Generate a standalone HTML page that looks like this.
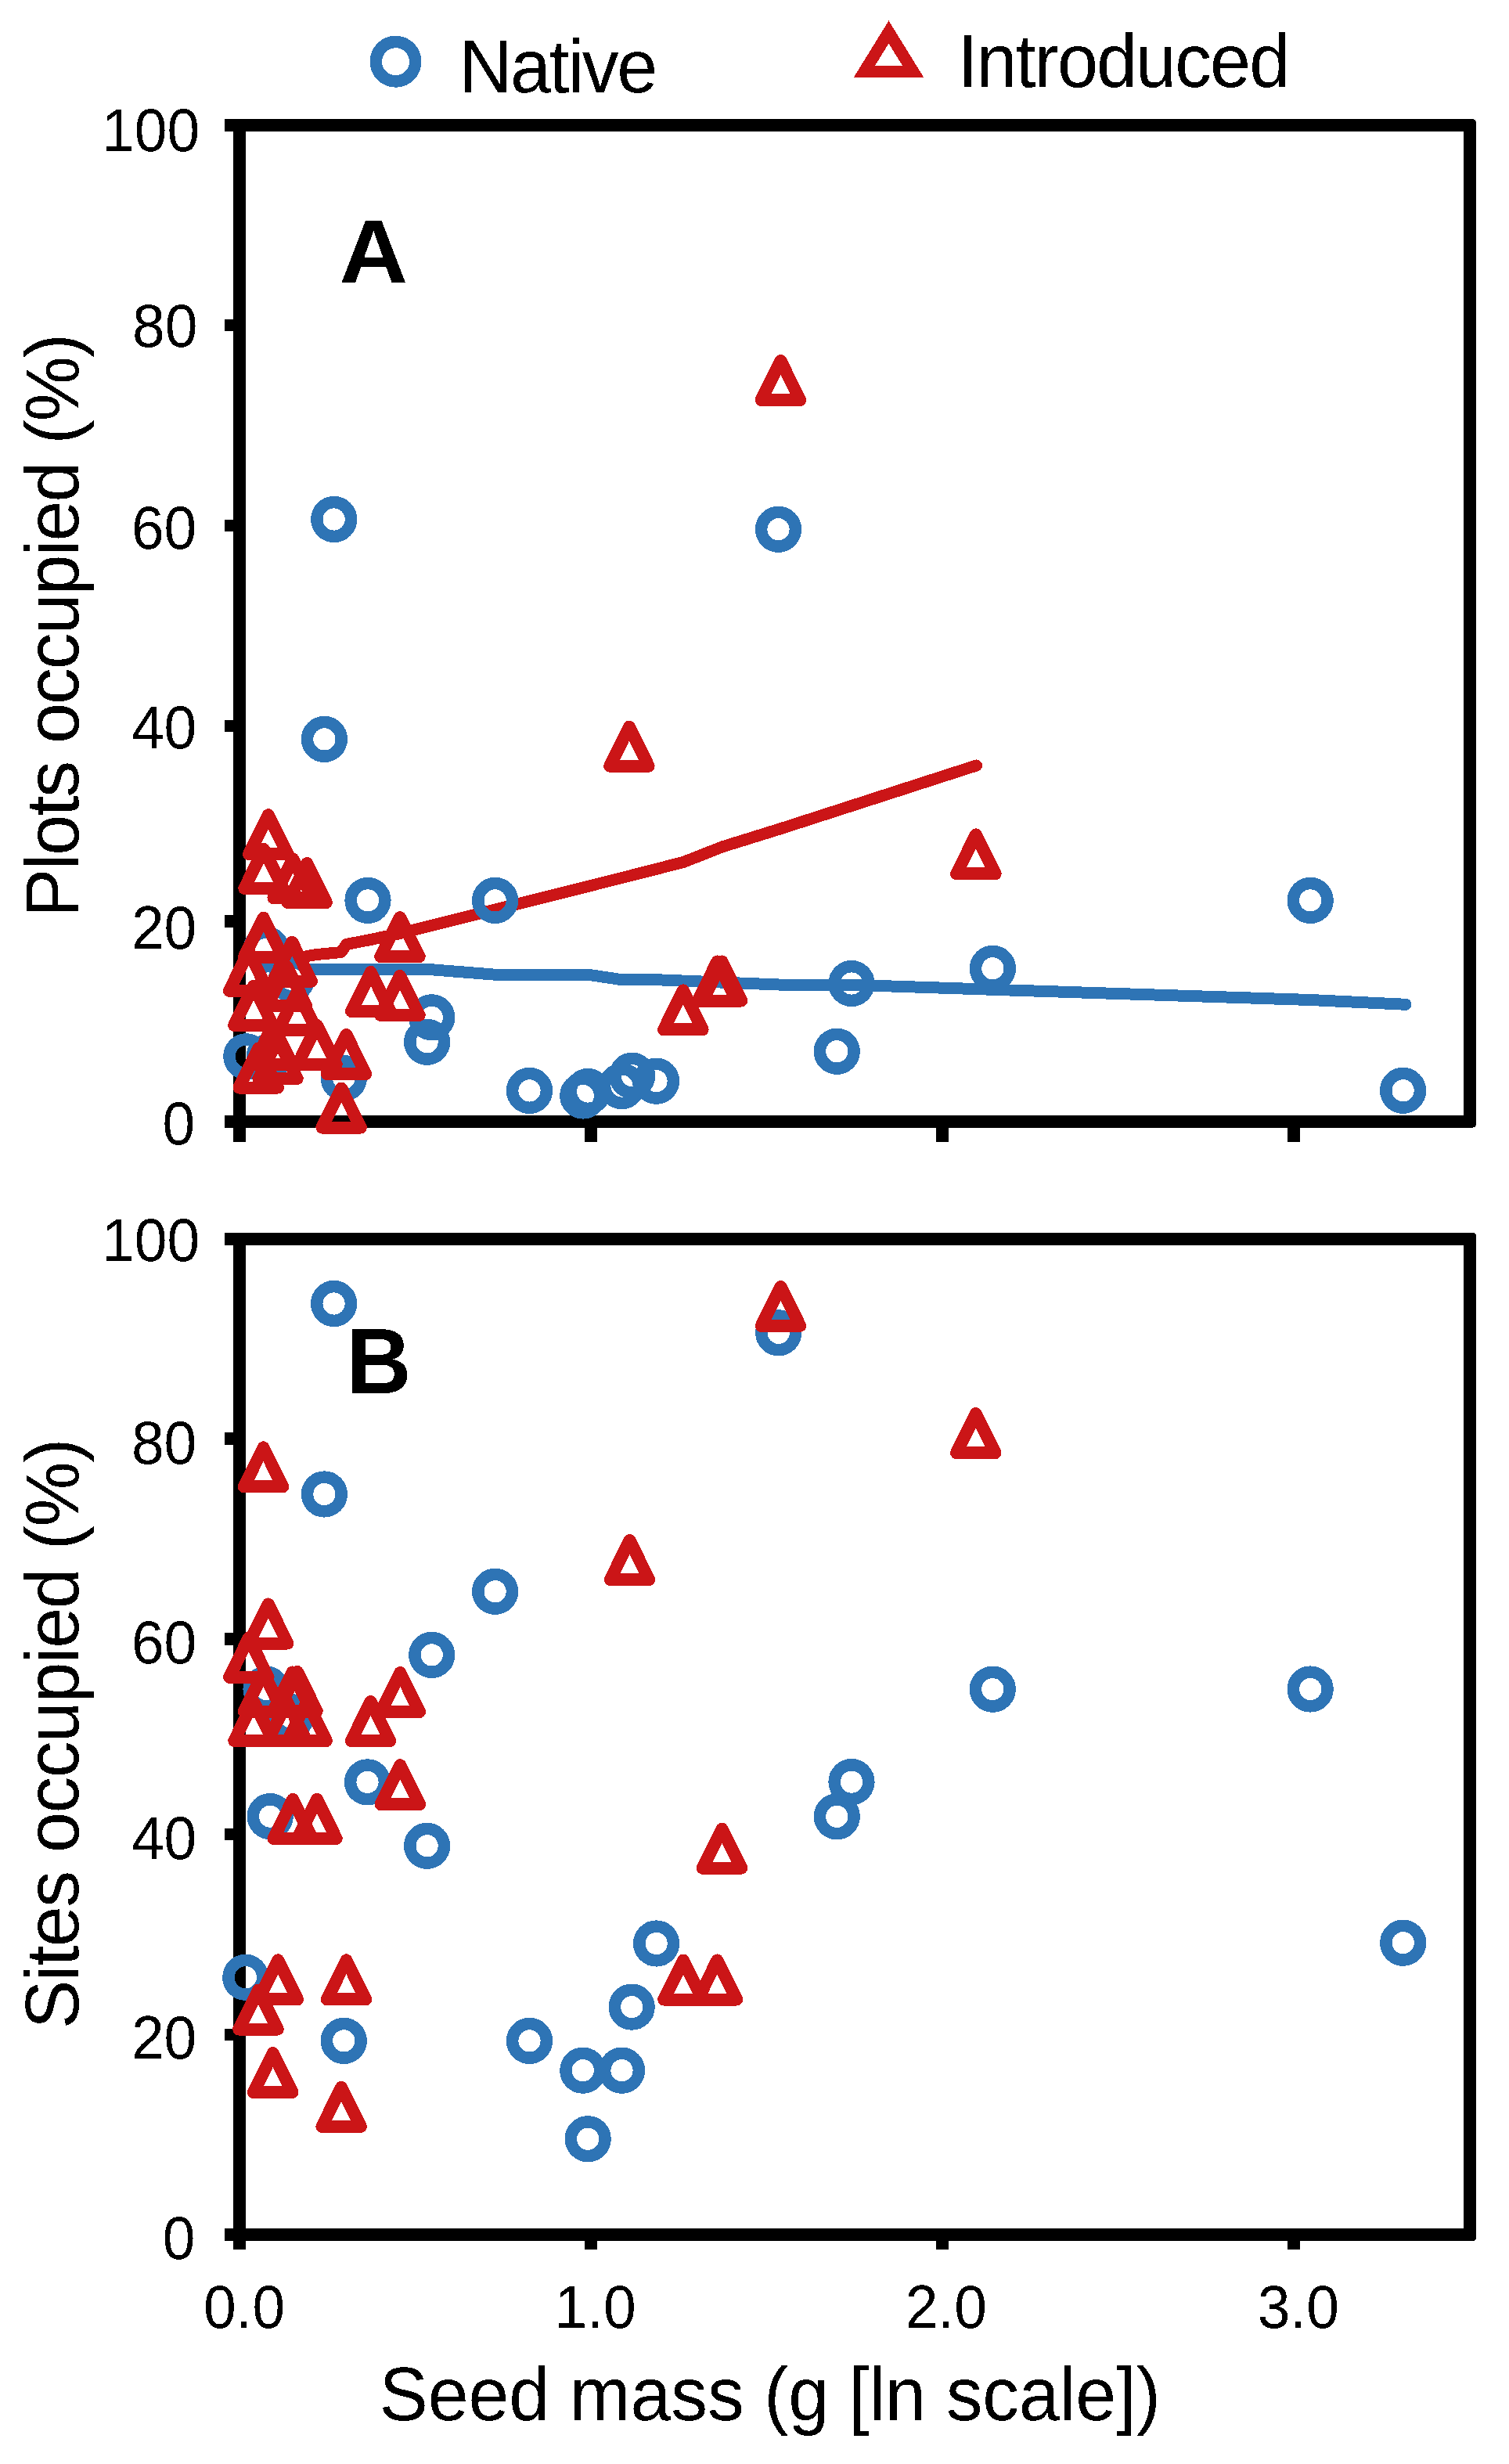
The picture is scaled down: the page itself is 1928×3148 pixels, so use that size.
<!DOCTYPE html>
<html lang="en">
<head>
<meta charset="utf-8">
<title>Seed mass vs plots and sites occupied</title>
<style>
html,body{margin:0;padding:0;background:#fff}
body{width:1928px;height:3148px;overflow:hidden}
svg{display:block}
text{font-family:"Liberation Sans", sans-serif;fill:#000;filter:url(#bin)}
.tick{font-size:78.0px}
.ttl{font-size:97.3px}
.lab{font-size:118px;font-weight:bold}
.b{fill:none;stroke:#2E74B5}
.r{fill:none;stroke:#CB1517}
</style>
</head>
<body>
<svg width="1928" height="3148" viewBox="0 0 1928 3148" shape-rendering="crispEdges">
<defs><filter id="bin" x="-5%" y="-5%" width="110%" height="110%" color-interpolation-filters="sRGB"><feComponentTransfer><feFuncA type="discrete" tableValues="0 1"/></feComponentTransfer></filter></defs>
<rect width="1928" height="3148" fill="#fff"/>
<g class="b" stroke-width="15.5"><circle cx="505.5" cy="78.7" r="25.2"/></g>
<text class="ttl" transform="translate(586.7 117.8) scale(0.961 1)" style="letter-spacing:-2.40px">Native</text>
<g class="r" stroke-width="15.3" stroke-linejoin="miter" stroke-miterlimit="10"><path d="M1135.5 41L1104.5 91.2H1166.5Z"/></g>
<text class="ttl" transform="translate(1223.3 111) scale(0.961 1)" style="letter-spacing:-1.95px">Introduced</text>
<g id="panelA">
<g fill="#000"><path fill-rule="evenodd" d="M298 152H1881Q1886 152 1886 157V1435.7Q1886 1440.7 1881 1440.7H298ZM314 168V1424.7H1870V168Z"/><rect x="286.7" y="152.2" width="12" height="15.6"/><rect x="286.7" y="407.6" width="12" height="15.6"/><rect x="286.7" y="663.7" width="12" height="15.6"/><rect x="286.7" y="919.7" width="12" height="15.6"/><rect x="286.7" y="1169.2" width="12" height="15.6"/><rect x="286.7" y="1424.9" width="12" height="15.6"/><rect x="298" y="1439.7" width="16" height="19"/><rect x="747.1" y="1439.7" width="16" height="19"/><rect x="1196.3" y="1439.7" width="16" height="19"/><rect x="1645.4" y="1439.7" width="16" height="19"/></g>
<g class="tick"><text transform="translate(255.2 193) scale(0.9615 1)" text-anchor="end">100</text><text transform="translate(252.4 443.3) scale(0.9615 1)" text-anchor="end">80</text><text transform="translate(251.3 700.6) scale(0.9615 1)" text-anchor="end">60</text><text transform="translate(251.3 956.2) scale(0.9615 1)" text-anchor="end">40</text><text transform="translate(251.3 1212) scale(0.9615 1)" text-anchor="end">20</text><text transform="translate(249.1 1462.3) scale(0.9615 1)" text-anchor="end">0</text></g>
<polyline class="b" stroke-width="15" stroke-linejoin="round" stroke-linecap="round" points="392,1238 545.6,1238 551.7,1238.8 632.6,1245.2 751.2,1245.2 794.5,1251.7 838.6,1251.7 994.7,1258 1088,1258.3 1268.3,1264.3 1674.2,1277.5 1796,1283.3"/>
<polyline class="r" stroke-width="15" stroke-linejoin="round" stroke-linecap="round" points="392,1221.5 405,1219.5 436.1,1216.5 442.5,1206.5 473.5,1200.5 511.3,1192.5 804.5,1119 873,1101.5 916.4,1084.5 922.5,1082 997.5,1058.7 1247.5,978"/>
<g class="b" stroke-width="15.5"><circle cx="314.8" cy="1349.8" r="21.85"/><circle cx="340" cy="1213" r="21.85"/><circle cx="344.2" cy="1349.8" r="21.85"/><circle cx="372.5" cy="1251" r="21.85"/><circle cx="414.4" cy="944.4" r="21.85"/><circle cx="426.7" cy="663.5" r="21.85"/><circle cx="439.3" cy="1377.6" r="21.85"/><circle cx="470" cy="1150.4" r="21.85"/><circle cx="545.6" cy="1331.3" r="21.85"/><circle cx="551.7" cy="1299.8" r="21.85"/><circle cx="632.6" cy="1150.4" r="21.85"/><circle cx="676.5" cy="1393.4" r="21.85"/><circle cx="744.8" cy="1400" r="21.85"/><circle cx="751.2" cy="1394.5" r="21.85"/><circle cx="794.5" cy="1387.6" r="21.85"/><circle cx="807.7" cy="1374.3" r="21.85"/><circle cx="838.5" cy="1381.2" r="21.85"/><circle cx="994.5" cy="676.3" r="21.85"/><circle cx="1069.3" cy="1343.3" r="21.85"/><circle cx="1088" cy="1256.5" r="21.85"/><circle cx="1268.4" cy="1237.3" r="21.85"/><circle cx="1674.2" cy="1150.4" r="21.85"/><circle cx="1792.6" cy="1393.3" r="21.85"/></g>
<g class="r" stroke-width="16.0" stroke-linejoin="round"><path d="M342.8 1041.2L318.05 1091.2H367.55Z"/><path d="M337 1085L312.25 1135H361.75Z"/><path d="M374.2 1097.3L349.45 1147.3H398.95Z"/><path d="M392.2 1103L367.45 1153H416.95Z"/><path d="M336.6 1172.6L311.85 1222.6H361.35Z"/><path d="M511 1172.2L486.25 1222.2H535.75Z"/><path d="M373.2 1203.7L348.45 1253.7H397.95Z"/><path d="M317.7 1215.7L292.95 1265.7H342.45Z"/><path d="M473.8 1242L449.05 1292H498.55Z"/><path d="M511 1247L486.25 1297H535.75Z"/><path d="M323.9 1260L299.15 1310H348.65Z"/><path d="M380 1266.4L355.25 1316.4H404.75Z"/><path d="M405 1310L380.25 1360H429.75Z"/><path d="M442.4 1322L417.65 1372H467.15Z"/><path d="M436.1 1390.5L411.35 1440.5H460.85Z"/><path d="M355 1328L330.25 1378H379.75Z"/><path d="M330.2 1339.5L305.45 1389.5H354.95Z"/><path d="M348.7 1309.8L323.95 1359.8H373.45Z"/><path d="M366.4 1234.8L341.65 1284.8H391.15Z"/><path d="M872.8 1265.4L848.05 1315.4H897.55Z"/><path d="M916.4 1228.5L891.65 1278.5H941.15Z"/><path d="M922.5 1228.5L897.75 1278.5H947.25Z"/><path d="M803.9 928.7L779.15 978.7H828.65Z"/><path d="M997.4 461L972.65 511H1022.15Z"/><path d="M1246.9 1066.4L1222.15 1116.4H1271.65Z"/></g>
<text class="lab" transform="translate(433.5 361) scale(1.05 1)" style="font-size:115.5px">A</text>
<text class="ttl" transform="translate(100 1172) rotate(-90) scale(0.961 1)" style="letter-spacing:-2.05px">Plots occupied (%)</text>
</g>
<g id="panelB">
<g fill="#000"><path fill-rule="evenodd" d="M298 1574.7H1881Q1886 1574.7 1886 1579.7V2858Q1886 2863 1881 2863H298ZM314 1590.7V2847H1870V1590.7Z"/><rect x="286.7" y="1574.9" width="12" height="15.6"/><rect x="286.7" y="1830.2" width="12" height="15.6"/><rect x="286.7" y="2086.2" width="12" height="15.6"/><rect x="286.7" y="2335.7" width="12" height="15.6"/><rect x="286.7" y="2591.8" width="12" height="15.6"/><rect x="286.7" y="2847.2" width="12" height="15.6"/><rect x="298" y="2862" width="16" height="12"/><rect x="747.1" y="2862" width="16" height="12"/><rect x="1196.3" y="2862" width="16" height="12"/><rect x="1645.4" y="2862" width="16" height="12"/></g>
<g class="tick"><text transform="translate(255.2 1611) scale(0.9615 1)" text-anchor="end">100</text><text transform="translate(251.3 1869.6) scale(0.9615 1)" text-anchor="end">80</text><text transform="translate(251.3 2125.4) scale(0.9615 1)" text-anchor="end">60</text><text transform="translate(251.3 2375) scale(0.9615 1)" text-anchor="end">40</text><text transform="translate(251.3 2630.1) scale(0.9615 1)" text-anchor="end">20</text><text transform="translate(249.4 2886.3) scale(0.9615 1)" text-anchor="end">0</text></g>
<g class="b" stroke-width="15.5"><circle cx="313.8" cy="2526.3" r="21.85"/><circle cx="340" cy="2158" r="21.85"/><circle cx="345.2" cy="2320.6" r="21.85"/><circle cx="371.5" cy="2193.6" r="21.85"/><circle cx="414.4" cy="1909" r="21.85"/><circle cx="426.6" cy="1665.5" r="21.85"/><circle cx="439.3" cy="2607.4" r="21.85"/><circle cx="469.5" cy="2276.9" r="21.85"/><circle cx="545.6" cy="2358.3" r="21.85"/><circle cx="551.7" cy="2114.4" r="21.85"/><circle cx="632.6" cy="2033.3" r="21.85"/><circle cx="676.5" cy="2607.4" r="21.85"/><circle cx="744.8" cy="2645.2" r="21.85"/><circle cx="751.2" cy="2732.7" r="21.85"/><circle cx="794.5" cy="2645.2" r="21.85"/><circle cx="807.2" cy="2564.1" r="21.85"/><circle cx="838.6" cy="2483" r="21.85"/><circle cx="994.7" cy="1702.8" r="21.85"/><circle cx="1069.3" cy="2320.8" r="21.85"/><circle cx="1088" cy="2276.6" r="21.85"/><circle cx="1268.3" cy="2158.2" r="21.85"/><circle cx="1674.2" cy="2158" r="21.85"/><circle cx="1792.7" cy="2482.2" r="21.85"/></g>
<g class="r" stroke-width="16.0" stroke-linejoin="round"><path d="M336.5 1849.4L311.75 1899.4H361.25Z"/><path d="M342.7 2049.5L317.95 2099.5H367.45Z"/><path d="M317.8 2092.7L293.05 2142.7H342.55Z"/><path d="M336.5 2136.5L311.75 2186.5H361.25Z"/><path d="M373.5 2136.5L348.75 2186.5H398.25Z"/><path d="M380 2136L355.25 2186H404.75Z"/><path d="M324 2174L299.25 2224H348.75Z"/><path d="M366.8 2174L342.05 2224H391.55Z"/><path d="M392.2 2174L367.45 2224H416.95Z"/><path d="M473.5 2174.1L448.75 2224.1H498.25Z"/><path d="M511.3 2137L486.55 2187H536.05Z"/><path d="M511.3 2255.2L486.55 2305.2H536.05Z"/><path d="M374.2 2298.9L349.45 2348.9H398.95Z"/><path d="M405 2298.9L380.25 2348.9H429.75Z"/><path d="M355.3 2504.4L330.55 2554.4H380.05Z"/><path d="M442.5 2504.4L417.75 2554.4H467.25Z"/><path d="M330 2542.5L305.25 2592.5H354.75Z"/><path d="M348.7 2623.1L323.95 2673.1H373.45Z"/><path d="M436.1 2666.9L411.35 2716.9H460.85Z"/><path d="M804.5 1968.1L779.75 2018.1H829.25Z"/><path d="M873 2504.5L848.25 2554.5H897.75Z"/><path d="M916.4 2504.5L891.65 2554.5H941.15Z"/><path d="M922.5 2336.7L897.75 2386.7H947.25Z"/><path d="M997.5 1643.9L972.75 1693.9H1022.25Z"/><path d="M1246.8 1806.1L1222.05 1856.1H1271.55Z"/></g>
<text class="lab" transform="translate(442.6 1779.8) scale(0.975 1)" style="font-size:118px">B</text>
<text class="ttl" transform="translate(100 2592) rotate(-90) scale(0.961 1)" style="letter-spacing:-1.54px">Sites occupied (%)</text>
<g class="tick" text-anchor="middle"><text transform="translate(312 2974) scale(0.9615 1)">0.0</text><text transform="translate(760.6 2974) scale(0.9615 1)">1.0</text><text transform="translate(1208.8 2974) scale(0.9615 1)">2.0</text><text transform="translate(1658.9 2974) scale(0.9615 1)">3.0</text></g>
<text class="ttl" transform="translate(484.5 3092.3) scale(0.961 1)" style="letter-spacing:-0.20px">Seed mass (g [ln scale])</text>
</g>
</svg>
</body>
</html>
